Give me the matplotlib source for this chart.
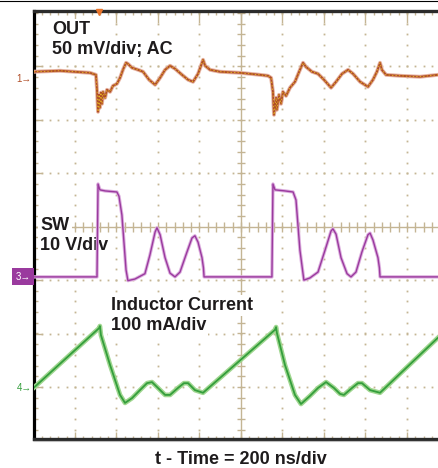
"""Scope capture: OUT ripple, SW node and inductor current at 200 ns/div."""

import numpy as np
import matplotlib
matplotlib.use("Agg")
import matplotlib.pyplot as plt
from matplotlib.lines import Line2D
from matplotlib.transforms import blended_transform_factory

plt.rcParams["font.family"] = ["Liberation Sans", "DejaVu Sans"]

# --- scope settings ---
NS_PER_DIV = 200
OUT_MV_PER_DIV = 50
SW_V_PER_DIV = 10
IL_MA_PER_DIV = 100
# channel ground markers, in divisions from screen centre
OUT_REF = 2.77
SW_REF = -0.94
IL_REF = -3.02
TRIG_NS = 316

# --- traces ---
out_t = [0, 128, 272, 301, 306, 311, 316, 320, 325, 330, 335, 345, 354, 369, 383,
         402, 417, 431, 446, 455, 475, 504, 528, 557, 586, 610, 634, 658, 682, 716,
         745, 769, 793, 807, 817, 827, 851, 899, 995, 1092, 1130, 1145, 1154, 1159,
         1169, 1173, 1183, 1193, 1202, 1217, 1236, 1260, 1284, 1299, 1313, 1342,
         1371, 1400, 1434, 1458, 1487, 1516, 1540, 1574, 1612, 1636, 1655, 1670,
         1679, 1699, 1766, 1863, 1949]
out_mv = [6.6, 7.5, 5.6, 3.7, -10.3, -30.9, -15, -27, -13, -23.4, -12.2, -17.8, -10.3,
          -12.2, -6.6, -4.7, 0.9, 8.4, 15, 14, 10.3, 8.4, 6.6, -0.9, -5.6, 0.9, 8.4,
          12.2, 9.4, 3.7, -0.9, -2.8, 4.7, 12.2, 17.8, 12.2, 8.4, 6.6, 5.6, 3.7, 2.8,
          0.9, -12.2, -33.7, -17.8, -29, -15, -23.4, -12.2, -16, -8.4, -2.8, 8.4, 15,
          11.2, 6.6, 4.7, -0.9, -8.4, -2.8, 4.7, 8.4, 4.7, -2.8, -7.5, -0.9, 6.6, 15,
          8.4, 3.7, 2.8, 1.9, 3.7]

sw_t = [0, 306, 311, 320, 345, 402, 412, 426, 446, 455, 489, 537, 561, 586, 595,
        610, 634, 658, 682, 706, 740, 764, 778, 793, 812, 819, 822, 1149, 1154,
        1164, 1212, 1251, 1265, 1284, 1303, 1332, 1371, 1405, 1434, 1443, 1458,
        1482, 1511, 1530, 1554, 1583, 1612, 1622, 1636, 1660, 1667, 1670, 1949]
sw_v = [0, 0, 17.4, 16.3, 16.1, 15.9, 15.1, 11.6, 1.3, -0.7, -0.4, 0.6, 4.1, 8.4,
        9.2, 7.9, 3.6, 0.7, 0, 0.9, 4.7, 7.3, 7.7, 6.5, 3.6, 1.7, 0, 0, 17.4, 16.3,
        16.1, 15.9, 14.4, 5.0, -0.6, -0.2, 0.9, 5.0, 8.6, 9.0, 8.0, 3.6, 0.6, 0,
        0.9, 4.7, 7.9, 8.2, 6.9, 3.6, 1.7, 0, 0]

il_t = [0, 316, 320, 325, 369, 417, 441, 475, 513, 547, 571, 600, 634, 658, 696,
        725, 745, 778, 817, 1164, 1169, 1173, 1212, 1260, 1289, 1332, 1371, 1410,
        1448, 1477, 1496, 1535, 1564, 1583, 1622, 1670, 1949]
il_ma = [0, 112, 116, 99, 43, -13, -28, -19, -4, 9, 11, 0, -13, -13, 0, 9, 9, -4,
         -9, 109, 114, 103, 43, -13, -30, -15, 0, 11, 0, -11, -13, 0, 9, 9, -4, -9, 94]

# --- layout, in pixels of the 438x468 capture ---
W, H = 438, 468
X0, Y_TOP, Y_BOT = 33.5, 11, 439
PX_X, PX_Y = 41.5, 53.4
Y_CEN = 226.7

GRID = "#c4b594"
TEXT = "#1e1b1c"
OUT_C, SW_C, IL_C = "#b04e28", "#9a3a9e", "#349e3c"

fig = plt.figure(figsize=(W / 100, H / 100), dpi=100)
ax = fig.add_axes([X0 / W, 1 - Y_BOT / H, 1 - X0 / W, (Y_BOT - Y_TOP) / H])
xmax = (W - X0) / PX_X
ymin, ymax = (Y_CEN - Y_BOT) / PX_Y, (Y_CEN - Y_TOP) / PX_Y
ax.set_xlim(0, xmax)
ax.set_ylim(ymin, ymax)
ax.set_xticks([]); ax.set_yticks([])
ax.spines["right"].set_visible(False)
ax.spines["left"].set(color="black", linewidth=2.3)
for s in ("top", "bottom"):
    ax.spines[s].set(color="#2b2b2b", linewidth=2.4)

# graticule: dotted majors, solid centre cross with ticks
minor_x = np.arange(0, xmax, 0.2)
minor_y = np.arange(-4, 4.01, 0.2)
dot = dict(ls="none", marker="s", ms=1.3, mec="none", mfc=GRID, zorder=1)
for gx in range(1, 10):
    if gx != 5:
        ax.plot(np.full_like(minor_y, gx), minor_y, **dot)
for gy in range(-3, 4):
    if gy != 0:
        ax.plot(minor_x, np.full_like(minor_x, gy), **dot)
ax.axvline(5, color=GRID, lw=1.0, zorder=1)
ax.axhline(0, color=GRID, lw=1.0, zorder=1)
tk = dict(color=GRID, lw=1.0, zorder=1)
ax.hlines(minor_y, 5 - 4 / PX_X, 5 + 4 / PX_X, **tk)
ax.vlines(minor_x, -5 / PX_Y, 5 / PX_Y, **tk)
ax.vlines(minor_x, ymax - 4 / PX_Y, ymax, **tk)
ax.vlines(range(1, 10), ymax - 12 / PX_Y, ymax, **tk)
ax.vlines(minor_x, ymin, ymin + 3 / PX_Y, **tk)
ax.vlines(range(1, 10), ymin, ymin + 7 / PX_Y, **tk)
ax.hlines(minor_y, 0, 4 / PX_X, **tk)
ax.hlines(range(-3, 4), 0, 8 / PX_X, **tk)

# traces (light halo stands in for the scope's noise band)
x = np.asarray(out_t) / NS_PER_DIV
y = OUT_REF + np.asarray(out_mv) / OUT_MV_PER_DIV
ax.plot(x, y, color="#e7b3a0", lw=2.8, zorder=4)
ax.plot(x, y, color=OUT_C, lw=1.4, zorder=4)
ax.plot(x, y, color="#f3cf1f", lw=0.5, ls=(0, (2, 3)), zorder=4)

x = np.asarray(sw_t) / NS_PER_DIV
y = SW_REF + np.asarray(sw_v) / SW_V_PER_DIV
ax.plot(x, y, color="#dcaede", lw=2.4, zorder=4)
ax.plot(x, y, color=SW_C, lw=1.0, zorder=4)

x = np.asarray(il_t) / NS_PER_DIV
y = IL_REF + np.asarray(il_ma) / IL_MA_PER_DIV
ax.plot(x, y, color="#9fd68f", lw=3.4, zorder=4)
ax.plot(x, y, color=IL_C, lw=1.3, zorder=4)

# trigger position marker on the top border
ax.plot(TRIG_NS / NS_PER_DIV, ymax - 1 / PX_Y, marker="v", ms=4, color="#e8742a",
        clip_on=False, zorder=6)

# channel ground markers left of the screen
tr = blended_transform_factory(fig.transFigure, ax.transData)
ax.text(31.5 / W, OUT_REF, "1\u2192", transform=tr, ha="right", va="center",
        fontsize=7, color=OUT_C)
ax.text(31 / W, SW_REF, "3\u2192", transform=tr, ha="right", va="center",
        fontsize=7, color="white",
        bbox=dict(fc=SW_C, ec="none", boxstyle="square,pad=0.35"))
ax.text(31.5 / W, IL_REF, "4\u2192", transform=tr, ha="right", va="center",
        fontsize=7, color=IL_C)

# labels
box = dict(fc="white", ec="none", pad=1.5)
labels = [
    (52, 34, "OUT"),
    (52, 54, f"{OUT_MV_PER_DIV} mV/div; AC"),
    (40.5, 230, "SW"),
    (40.5, 250, f"{SW_V_PER_DIV} V/div"),
    (110.5, 310, "Inductor Current"),
    (110.5, 330, f"{IL_MA_PER_DIV} mA/div"),
]
for px, py, s in labels:
    ax.text(px / W, 1 - py / H, s, transform=fig.transFigure, fontsize=13,
            fontweight="bold", color=TEXT, ha="left", va="baseline", bbox=box, zorder=3)

fig.text(240.5 / W, 1 - 464 / H, f"t - Time = {NS_PER_DIV} ns/div", fontsize=13,
         fontweight="bold", color=TEXT, ha="center", va="baseline")

fig.add_artist(Line2D([0, 1], [1 - 0.5 / H] * 2, color="black", lw=0.8))
fig.add_artist(Line2D([X0 / W, 1], [1 - 441 / H] * 2, color="#bdbdbd", lw=0.8))

fig.savefig("out.png", dpi=100)
